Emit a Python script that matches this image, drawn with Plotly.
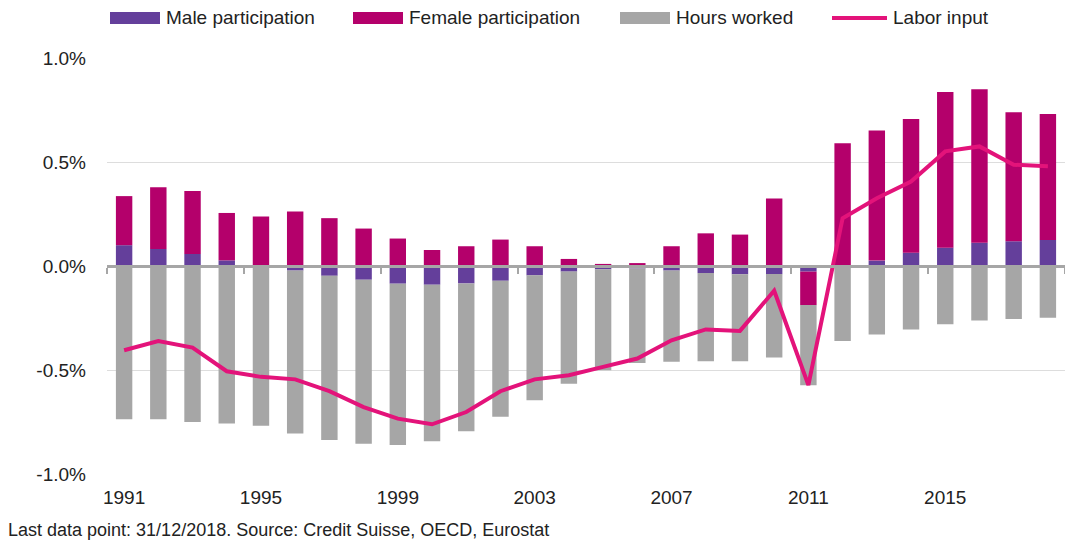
import plotly.graph_objects as go

years = list(range(1991, 2019))
male = [0.100, 0.082, 0.058, 0.027, 0.000, -0.022, -0.047, -0.066, -0.085, -0.090,
        -0.084, -0.071, -0.045, -0.027, -0.016, -0.012, -0.022, -0.034, -0.040, -0.039,
        -0.027, 0.000, 0.026, 0.064, 0.088, 0.112, 0.119, 0.125]
female = [0.236, 0.297, 0.302, 0.228, 0.238, 0.262, 0.230, 0.180, 0.132, 0.077,
          0.095, 0.127, 0.095, 0.034, 0.010, 0.014, 0.095, 0.157, 0.151, 0.325,
          -0.161, 0.590, 0.626, 0.643, 0.749, 0.738, 0.620, 0.606]
hours = [-0.737, -0.737, -0.750, -0.757, -0.768, -0.783, -0.790, -0.789, -0.776, -0.753,
         -0.710, -0.654, -0.601, -0.539, -0.485, -0.454, -0.438, -0.424, -0.418, -0.401,
         -0.385, -0.360, -0.329, -0.305, -0.280, -0.262, -0.255, -0.249]
labor = [-0.405, -0.361, -0.392, -0.506, -0.533, -0.545, -0.602, -0.678, -0.734, -0.761,
         -0.702, -0.602, -0.545, -0.525, -0.485, -0.445, -0.357, -0.305, -0.312, -0.119,
         -0.573, 0.230, 0.326, 0.406, 0.551, 0.575, 0.487, 0.479]

x_ticks = [1991, 1995, 1999, 2003, 2007, 2011, 2015]
y_ticks = [-1.0, -0.5, 0.0, 0.5, 1.0]
y_labels = ["-1.0%", "-0.5%", "0.0%", "0.5%", "1.0%"]
boundary_ticks = [1990.5, 1994.5, 1998.5, 2002.5, 2006.5, 2010.5, 2014.5, 2018.5]

C_MALE = "#643F9B"
C_FEMALE = "#B4006B"
C_HOURS = "#A6A6A6"
C_LINE = "#E3137A"
FONT = "Liberation Sans"

# The page body has an 8px margin; work in window pixels and offset.
OFF = 8
W, H = 1073 - OFF, 543 - OFF
# plot area in window pixels
PX0, PX1, PY0, PY1 = 107, 1065, 58, 474
ML, MR = PX0 - OFF, (W + OFF) - PX1
MT, MB = PY0 - OFF, (H + OFF) - PY1
PW, PH = PX1 - PX0, PY1 - PY0

def px(x):
    return (x - PX0) / PW

def py(y):
    return (PY1 - y) / PH

fig = go.Figure()
fig.add_trace(go.Bar(x=years, y=male, name="Male participation",
                     marker=dict(color=C_MALE, line=dict(width=0)), width=0.48))
fig.add_trace(go.Bar(x=years, y=female, name="Female participation",
                     marker=dict(color=C_FEMALE, line=dict(width=0)), width=0.48))
fig.add_trace(go.Bar(x=years, y=hours, name="Hours worked",
                     marker=dict(color=C_HOURS, line=dict(width=0)), width=0.48))
fig.add_trace(go.Scatter(x=years, y=labor, name="Labor input", mode="lines",
                         line=dict(color=C_LINE, width=4), xaxis="x2", yaxis="y"))

fig.update_layout(
    width=W, height=H,
    barmode="relative",
    bargap=0.52,
    showlegend=False,
    plot_bgcolor="white", paper_bgcolor="white",
    margin=dict(l=ML, r=MR, t=MT, b=MB, autoexpand=False),
    font=dict(family=FONT, color="#222222"),
    xaxis=dict(range=[1990.5, 2018.5], tickvals=x_ticks, showgrid=False, zeroline=False,
               showline=False, ticks="", ticklabelstandoff=10,
               tickfont=dict(size=19, family=FONT, color="#222222")),
    xaxis2=dict(range=[1990.5, 2018.5], overlaying="x", anchor="free", position=0.5,
                showline=True, linecolor=C_HOURS, linewidth=2.5, showgrid=False,
                zeroline=False, ticks="outside", tickvals=boundary_ticks, ticklen=6,
                tickwidth=2, tickcolor=C_HOURS, showticklabels=False),
    yaxis=dict(range=[-1.0, 1.0], tickvals=y_ticks, ticktext=y_labels, showgrid=True,
               gridcolor="#DDDDDD", gridwidth=1, zeroline=False, showline=False,
               ticks="", ticklabelstandoff=20,
               tickfont=dict(size=19, family=FONT, color="#222222")),
)

# Legend drawn manually to mimic the wide swatches
legend_items = [
    ("rect", C_MALE, "Male participation", 110),
    ("rect", C_FEMALE, "Female participation", 353),
    ("rect", C_HOURS, "Hours worked", 620),
    ("line", C_LINE, "Labor input", 832),
]
ly = 18
for kind, color, label, x0 in legend_items:
    if kind == "rect":
        fig.add_shape(type="rect", xref="paper", yref="paper",
                      x0=px(x0), x1=px(x0 + 50), y0=py(ly + 6), y1=py(ly - 6),
                      fillcolor=color, line=dict(width=0))
        tx = x0 + 54
    else:
        fig.add_shape(type="line", xref="paper", yref="paper",
                      x0=px(x0), x1=px(x0 + 55), y0=py(ly), y1=py(ly),
                      line=dict(color=color, width=4))
        tx = x0 + 59
    fig.add_annotation(xref="paper", yref="paper", x=px(tx), y=py(ly),
                       xanchor="left", yanchor="middle", showarrow=False,
                       text=label, font=dict(size=19, family=FONT, color="#222222"))

fig.add_annotation(xref="paper", yref="paper", x=px(6), y=py(530),
                   xanchor="left", yanchor="middle", showarrow=False,
                   text="Last data point: 31/12/2018. Source: Credit Suisse, OECD, Eurostat",
                   font=dict(size=18, family=FONT, color="#222222"))

fig.write_html("out.html")
